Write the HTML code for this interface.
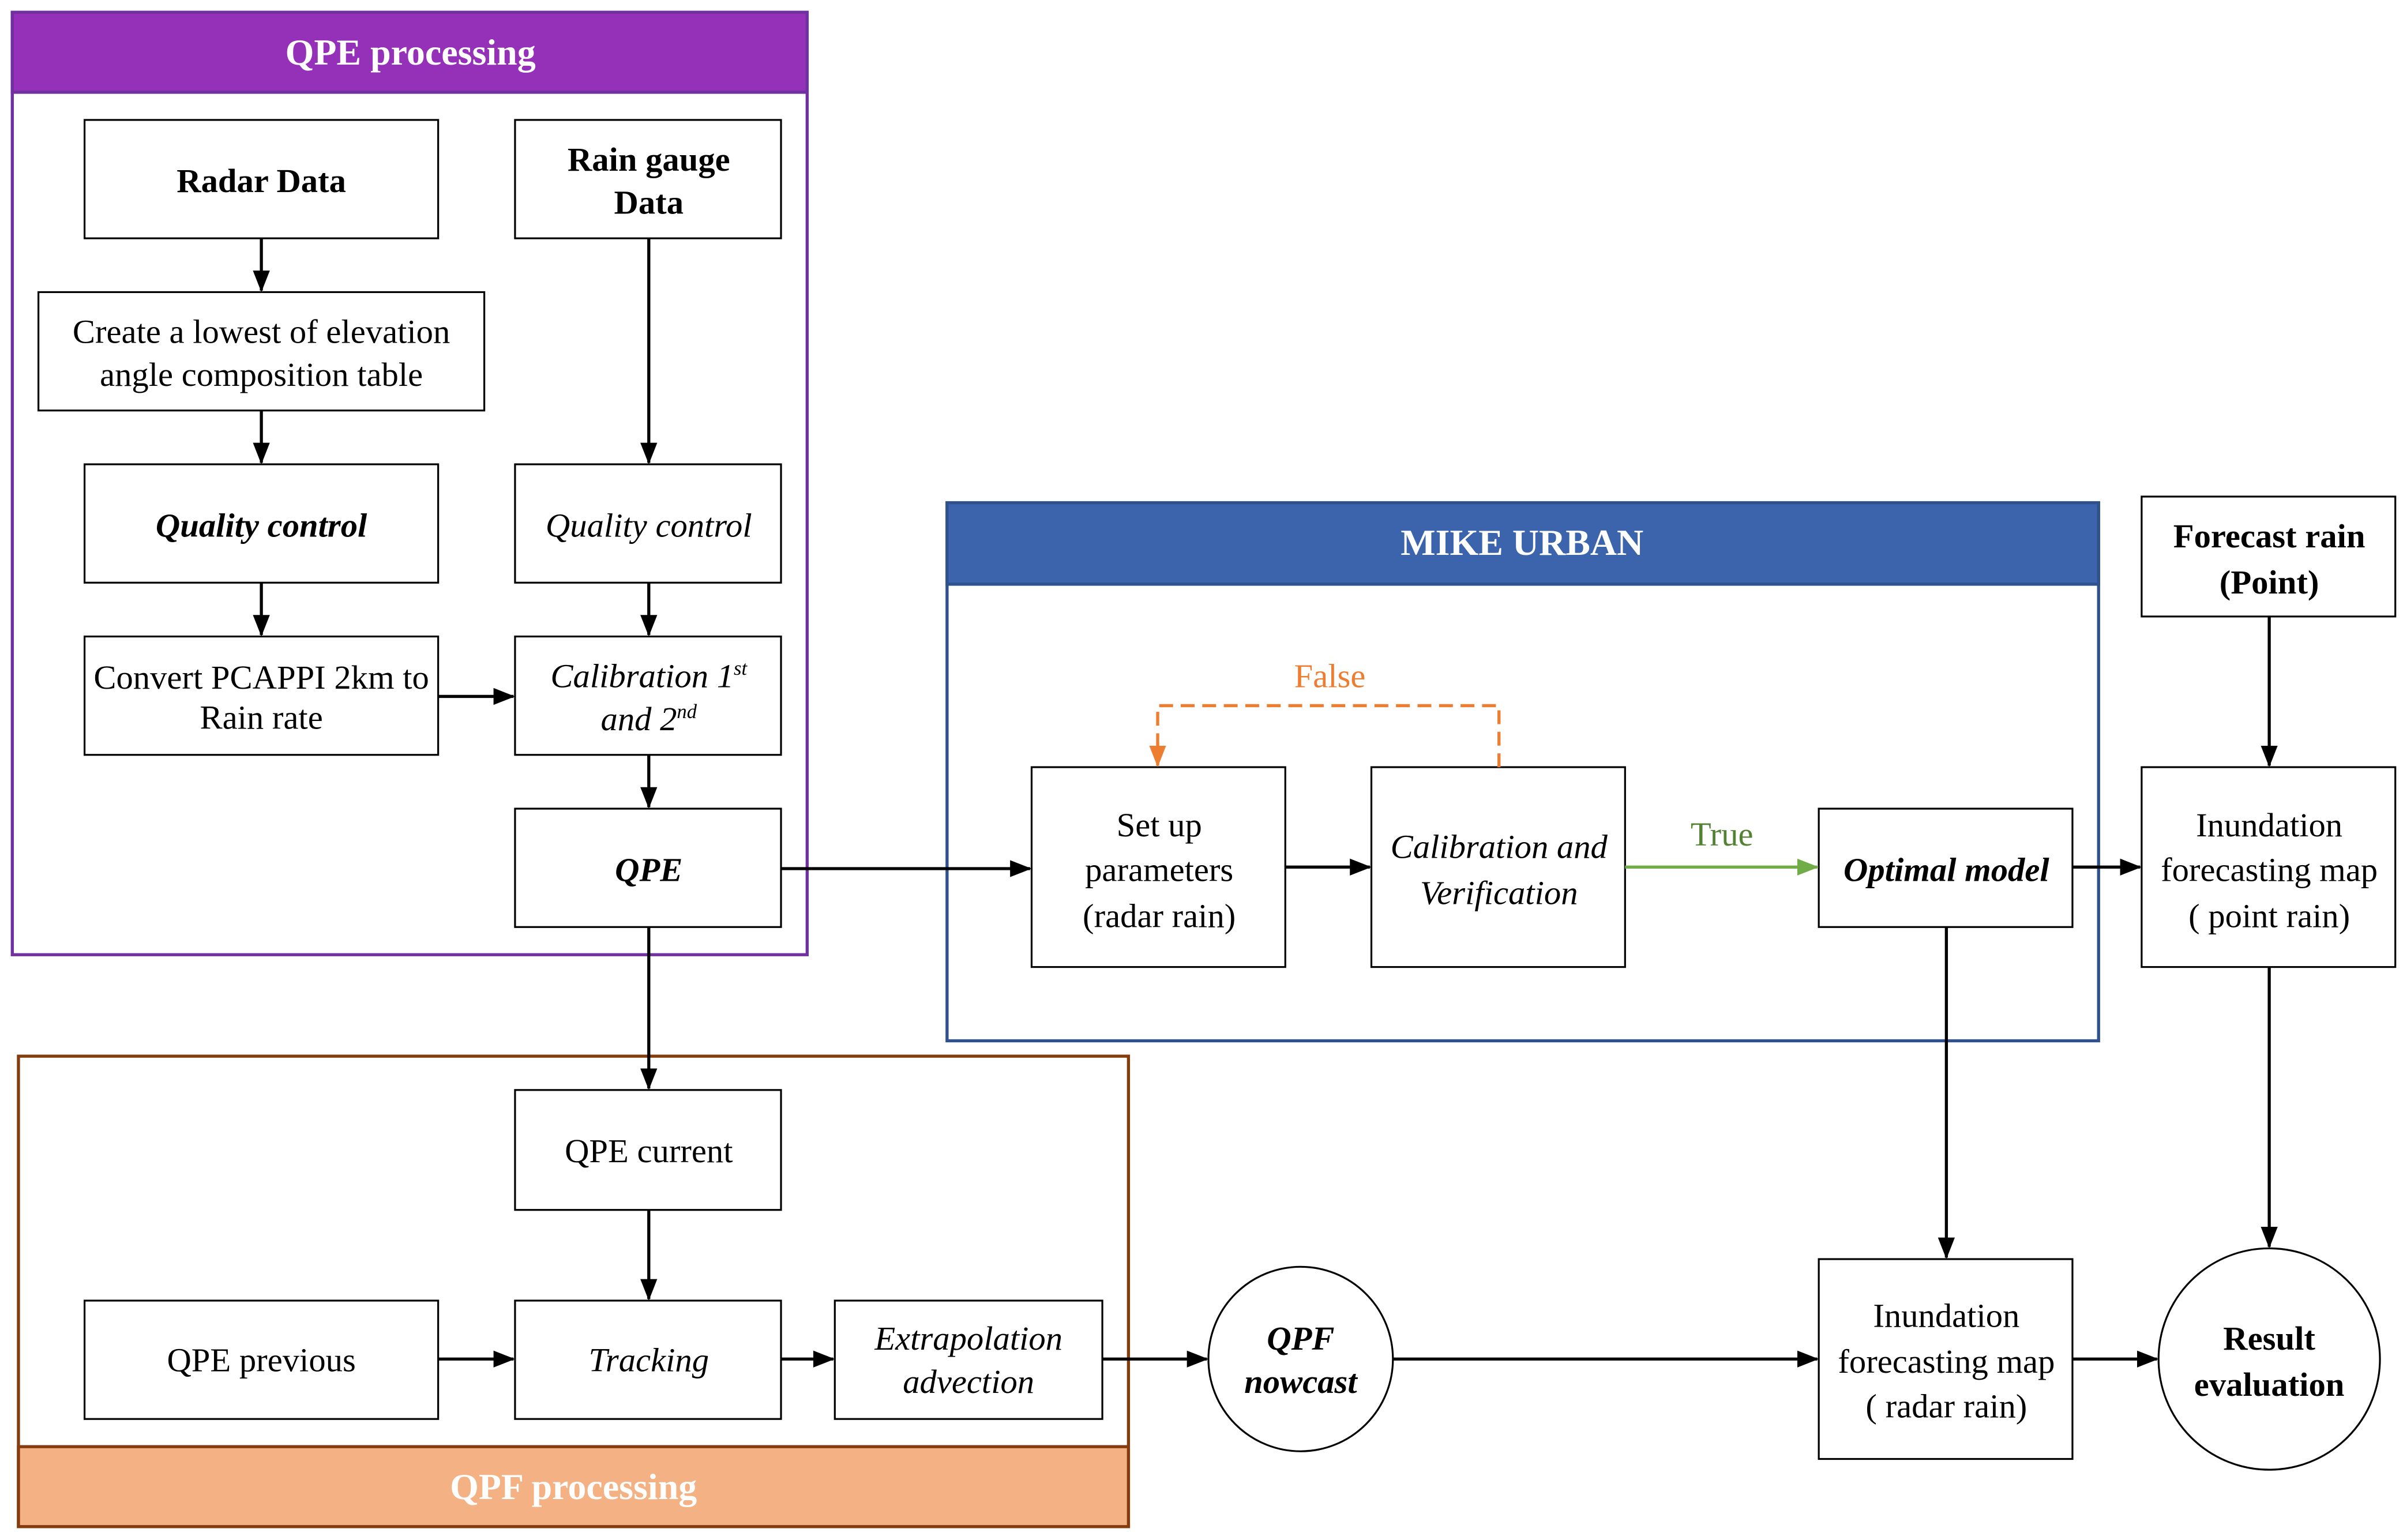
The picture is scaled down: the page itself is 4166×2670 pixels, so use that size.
<!DOCTYPE html>
<html><head><meta charset="utf-8">
<style>html,body{margin:0;padding:0;background:#fff}svg{display:block}
text{font-family:"Liberation Serif",serif;font-size:22px;fill:#000;text-anchor:middle}
.b{font-weight:bold}.i{font-style:italic}.h{font-weight:bold;fill:#fff;font-size:24px}
</style></head><body>
<svg width="4166" height="2670" viewBox="0 0 1563 1001.7" xmlns="http://www.w3.org/2000/svg">
<defs>
<marker id="a" markerWidth="14" markerHeight="12" refX="13" refY="6" orient="auto" markerUnits="userSpaceOnUse"><path d="M0,0.5 L14,6 L0,11.5Z" fill="#000"/></marker>
<marker id="g" markerWidth="14" markerHeight="12" refX="13" refY="6" orient="auto" markerUnits="userSpaceOnUse"><path d="M0,0.5 L14,6 L0,11.5Z" fill="#70AD47"/></marker>
<marker id="o" markerWidth="14" markerHeight="12" refX="13" refY="6" orient="auto" markerUnits="userSpaceOnUse"><path d="M0,0.5 L14,6 L0,11.5Z" fill="#ED7D31"/></marker>
</defs>
<rect x="8" y="8" width="517" height="613" fill="#fff" stroke="#7030A0" stroke-width="2"/>
<rect x="8" y="8" width="517" height="52" fill="#9530B8" stroke="#7030A0" stroke-width="2"/>
<text x="267" y="42" class="h">QPE processing</text>
<rect x="616" y="327" width="749" height="350" fill="#fff" stroke="#2F528F" stroke-width="2"/>
<rect x="616" y="327" width="749" height="53" fill="#3C64AC" stroke="#2F528F" stroke-width="2"/>
<text x="990" y="361" class="h">MIKE URBAN</text>
<rect x="12" y="687" width="722" height="306" fill="#fff" stroke="#843C0C" stroke-width="2"/>
<rect x="12" y="941" width="722" height="52" fill="#F4B183" stroke="#843C0C" stroke-width="2"/>
<text x="373" y="975" class="h">QPF processing</text>
<g fill="#fff" stroke="#000" stroke-width="1.2">
<rect x="55" y="78" width="230" height="77"/>
<rect x="335" y="78" width="173" height="77"/>
<rect x="25" y="190" width="290" height="77"/>
<rect x="55" y="302" width="230" height="77"/>
<rect x="335" y="302" width="173" height="77"/>
<rect x="55" y="414" width="230" height="77"/>
<rect x="335" y="414" width="173" height="77"/>
<rect x="335" y="526" width="173" height="77"/>
<rect x="671" y="499" width="165" height="130"/>
<rect x="892" y="499" width="165" height="130"/>
<rect x="1183" y="526" width="165" height="77"/>
<rect x="1393" y="323" width="165" height="78"/>
<rect x="1393" y="499" width="165" height="130"/>
<rect x="335" y="709" width="173" height="78"/>
<rect x="55" y="846" width="230" height="77"/>
<rect x="335" y="846" width="173" height="77"/>
<rect x="543" y="846" width="174" height="77"/>
<rect x="1183" y="819" width="165" height="130"/>
<circle cx="846" cy="884" r="60"/>
<circle cx="1476" cy="884" r="72"/>
</g>
<g stroke="#000" stroke-width="2" fill="none" marker-end="url(#a)">
<line x1="170" y1="155" x2="170" y2="189"/>
<line x1="170" y1="267" x2="170" y2="301"/>
<line x1="170" y1="379" x2="170" y2="413"/>
<line x1="422" y1="155" x2="422" y2="301"/>
<line x1="422" y1="379" x2="422" y2="413"/>
<line x1="285" y1="453" x2="334" y2="453"/>
<line x1="422" y1="491" x2="422" y2="525"/>
<line x1="508" y1="565" x2="670" y2="565"/>
<line x1="422" y1="603" x2="422" y2="708"/>
<line x1="422" y1="787" x2="422" y2="845"/>
<line x1="285" y1="884" x2="334" y2="884"/>
<line x1="508" y1="884" x2="542" y2="884"/>
<line x1="717" y1="884" x2="785" y2="884"/>
<line x1="906" y1="884" x2="1182" y2="884"/>
<line x1="836" y1="564" x2="891" y2="564"/>
<line x1="1348" y1="564" x2="1392" y2="564"/>
<line x1="1266" y1="603" x2="1266" y2="818"/>
<line x1="1476" y1="401" x2="1476" y2="498"/>
<line x1="1476" y1="629" x2="1476" y2="811"/>
<line x1="1348" y1="884" x2="1403" y2="884"/>
</g>
<line x1="1057" y1="564" x2="1182" y2="564" stroke="#70AD47" stroke-width="2" marker-end="url(#g)"/>
<path d="M975,499 V459 H753 V498" fill="none" stroke="#ED7D31" stroke-width="2" stroke-dasharray="9,5" marker-end="url(#o)"/>
<text x="1120" y="550" style="fill:#548235">True</text>
<text x="865" y="447" style="fill:#ED7D31">False</text>
<text x="170" y="125" class="b">Radar Data</text>
<text x="422" y="111" class="b">Rain gauge</text>
<text x="422" y="139" class="b">Data</text>
<text x="170" y="223">Create a lowest of elevation</text>
<text x="170" y="251">angle composition table</text>
<text x="170" y="349" class="b i">Quality control</text>
<text x="422" y="349" class="i">Quality control</text>
<text x="170" y="448">Convert PCAPPI 2km to</text>
<text x="170" y="474">Rain rate</text>
<text x="422" y="447" class="i">Calibration 1<tspan dy="-8" font-size="13">st</tspan></text>
<text x="422" y="475" class="i">and 2<tspan dy="-8" font-size="13">nd</tspan></text>
<text x="422" y="573" class="b i">QPE</text>
<text x="754" y="544">Set up</text>
<text x="754" y="573">parameters</text>
<text x="754" y="603">(radar rain)</text>
<text x="975" y="558" class="i">Calibration and</text>
<text x="975" y="588" class="i">Verification</text>
<text x="1266" y="573" class="b i">Optimal model</text>
<text x="1476" y="356" class="b">Forecast rain</text>
<text x="1476" y="386" class="b">(Point)</text>
<text x="1476" y="544">Inundation</text>
<text x="1476" y="573">forecasting map</text>
<text x="1476" y="603">( point rain)</text>
<text x="422" y="756">QPE current</text>
<text x="170" y="892">QPE previous</text>
<text x="422" y="892" class="i">Tracking</text>
<text x="630" y="878" class="i">Extrapolation</text>
<text x="630" y="906" class="i">advection</text>
<text x="846" y="878" class="b i">QPF</text>
<text x="846" y="906" class="b i">nowcast</text>
<text x="1266" y="863">Inundation</text>
<text x="1266" y="893">forecasting map</text>
<text x="1266" y="922">( radar rain)</text>
<text x="1476" y="878" class="b">Result</text>
<text x="1476" y="908" class="b">evaluation</text>
</svg>
</body></html>
